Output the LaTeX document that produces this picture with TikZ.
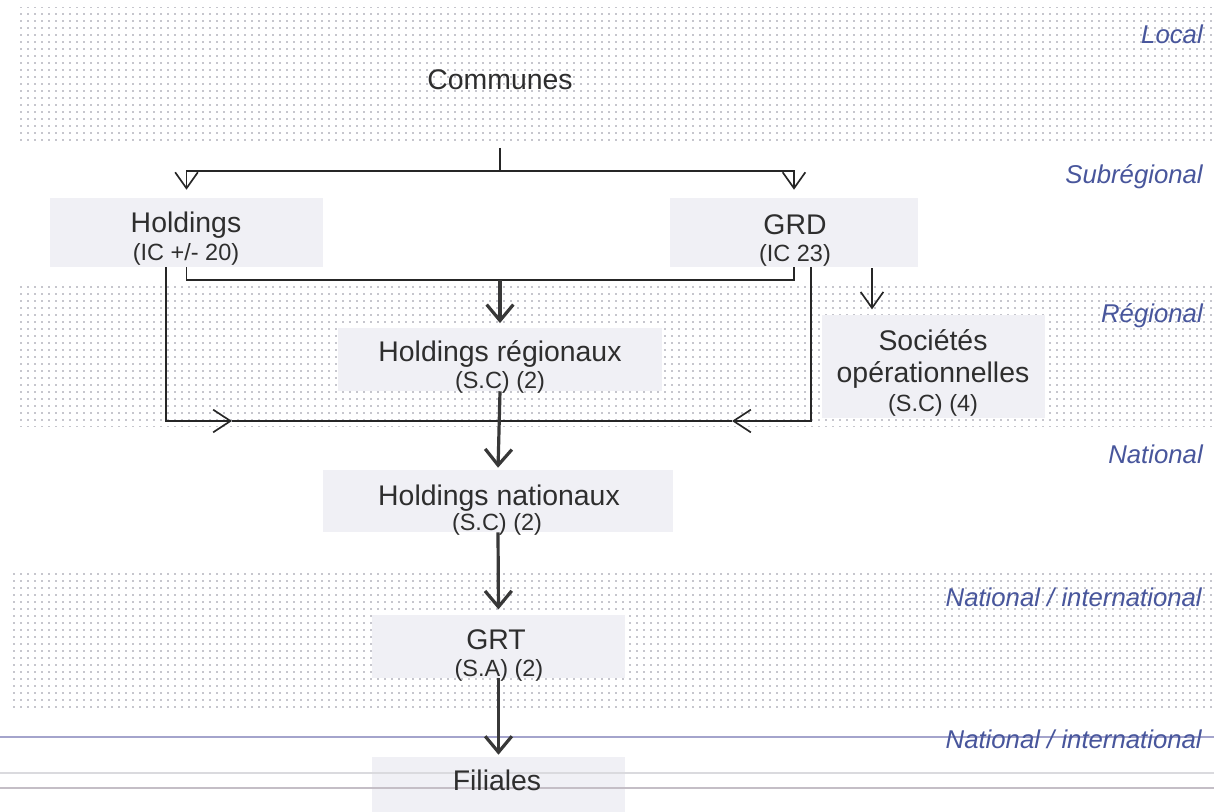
\documentclass[tikz,border=0pt]{standalone}
\usepackage{fontspec}
\setmainfont{Liberation Sans}
\usetikzlibrary{arrows.meta,patterns.meta,calc,fit}
\definecolor{txt}{HTML}{2E2E2E}
\definecolor{lbl}{HTML}{48569C}
\definecolor{boxfill}{HTML}{F0F0F5}
\definecolor{dotc}{HTML}{8C8C9A}
\definecolor{ln}{HTML}{262626}
\definecolor{lnb}{HTML}{383838}
\definecolor{rulea}{HTML}{A4A4CC}
\definecolor{ruleb}{HTML}{DADADE}
\definecolor{rulec}{HTML}{C4BEC6}
\newcommand\mainfs{\fontsize{21.3}{25}\selectfont}
\newcommand\subfs{\fontsize{17.6}{21}\selectfont}
\newcommand\lblfs{\fontsize{19.3}{22}\selectfont\itshape}
\tikzset{
  band/.style={pattern={Dots[radius=0.65pt,distance=5.25pt]}, pattern color=dotc, draw=none},
  orgbox/.style={fill=boxfill, draw=none, inner sep=0pt},
  maintext/.style={font=\mainfs, text=txt, anchor=base, inner sep=0pt},
  subtext/.style={font=\subfs, text=txt, anchor=base, inner sep=0pt},
  level/.style={font=\lblfs, text=lbl, anchor=base east, inner sep=0pt},
  thinline/.style={draw=ln, line width=1.25pt},
  thinarr/.style={thinline, -{Straight Barb[length=12pt,width=17pt]}},
  midarr/.style={thinline, -{Straight Barb[length=13pt,width=17pt]}},
  thickarr/.style={draw=lnb, line width=2.4pt, -{Straight Barb[length=12pt,width=20pt]}},
}
\begin{document}
\begin{tikzpicture}[x=0.75pt,y=-0.75pt]
\useasboundingbox (0,0) rectangle (1214,812);
\fill[white] (0,0) rectangle (1214,812);
% dotted level bands
\path[band] (15,8) rectangle (1214,145);
\path[band] (15,287) rectangle (1214,427);
\path[band] (10,570) rectangle (1214,712);
% boxes
\node[orgbox, fit={(50,198) (323,267)}] (hbox) {};
\node[orgbox, fit={(670,198) (918,267)}] (gbox) {};
\node[orgbox, fit={(338,328) (662,391)}] (hrbox) {};
\node[orgbox, fit={(822,315) (1045,418)}] (sbox) {};
\node[orgbox, fit={(323,470) (673,532)}] (hnbox) {};
\node[orgbox, fit={(372,615) (625,678)}] (grtbox) {};
\node[orgbox, fit={(372,757) (625,812)}] (fbox) {};
% bottom rules
\draw[rulea, line width=0.8pt] (0,737) -- (1214,737);
\draw[ruleb, line width=0.8pt] (0,773) -- (1214,773);
\draw[rulec, line width=0.8pt] (0,788) -- (1214,788);
% level labels
\node[level] (lvlocal) at (1203,44) {Local};
\node[level] (lvsub) at (1203,184) {Subrégional};
\node[level] (lvreg) at (1203,323) {Régional};
\node[level] (lvnat) at (1203,464) {National};
\node[level] (lvni) at (1202,606) {National / international};
\node[level] (lvnib) at (1202,748) {National / international};
% texts
\node[maintext] (communes) at (500,90) {Communes};
\node[maintext] (h1) at (186,233) {Holdings};
\node[subtext] (h2) at (186,261) {(IC +/- 20)};
\node[maintext] (g1) at (795,235) {GRD};
\node[subtext] (g2) at (795,262) {(IC 23)};
\node[maintext] (hr1) at (500,362) {Holdings régionaux};
\node[subtext] (hr2) at (500,389) {(S.C) (2)};
\node[maintext] (s1) at (933,351) {Sociétés};
\node[maintext] (s2) at (933,383) {opérationnelles};
\node[subtext] (s3) at (933,412) {(S.C) (4)};
\node[maintext] (hn1) at (499,506) {Holdings nationaux};
\node[subtext] (hn2) at (497,531) {(S.C) (2)};
\node[maintext] (grt1) at (496,649) {GRT};
\node[subtext] (grt2) at (499,676) {(S.A) (2)};
\node[maintext] (f1) at (497,790) {Filiales};
% connectors
\coordinate (ctop) at (500,148);
\coordinate (cjoin) at (500,171);
\draw[thinline] (ctop) -- (cjoin);
\draw[thinarr, shorten >=6pt] (cjoin) -| (hbox.north);
\draw[thinarr, shorten >=6pt] (cjoin) -| (gbox.north);
\coordinate (rjoin) at (500,280);
\draw[thinline] (hbox.south) |- (rjoin) -| (gbox.south);
\draw[thickarr, shorten >=3.5pt] (rjoin) -- (hrbox.north);
\coordinate (hl) at ($(hbox.south)+(-20.5,0)$);
\coordinate (gr) at ($(gbox.south)+(17,0)$);
\coordinate (natL) at (232,421);
\coordinate (natR) at (732,421);
\draw[midarr] (hl) |- (natL);
\draw[thinline] (natL) -- (natR);
\draw[midarr] (gr) |- (natR);
\coordinate (gs) at ($(gbox.south)+(78,1)$);
\draw[thinarr, shorten >=4pt] (gs) -- (gs |- sbox.north);
\draw[thickarr, shorten >=1.5pt] (hrbox.south) -- (hnbox.north);
\draw[thickarr, shorten >=4pt] (hnbox.south) -- (grtbox.north);
\draw[thickarr, shorten >=1.5pt] (grtbox.south) -- (fbox.north);
\end{tikzpicture}
\end{document}
